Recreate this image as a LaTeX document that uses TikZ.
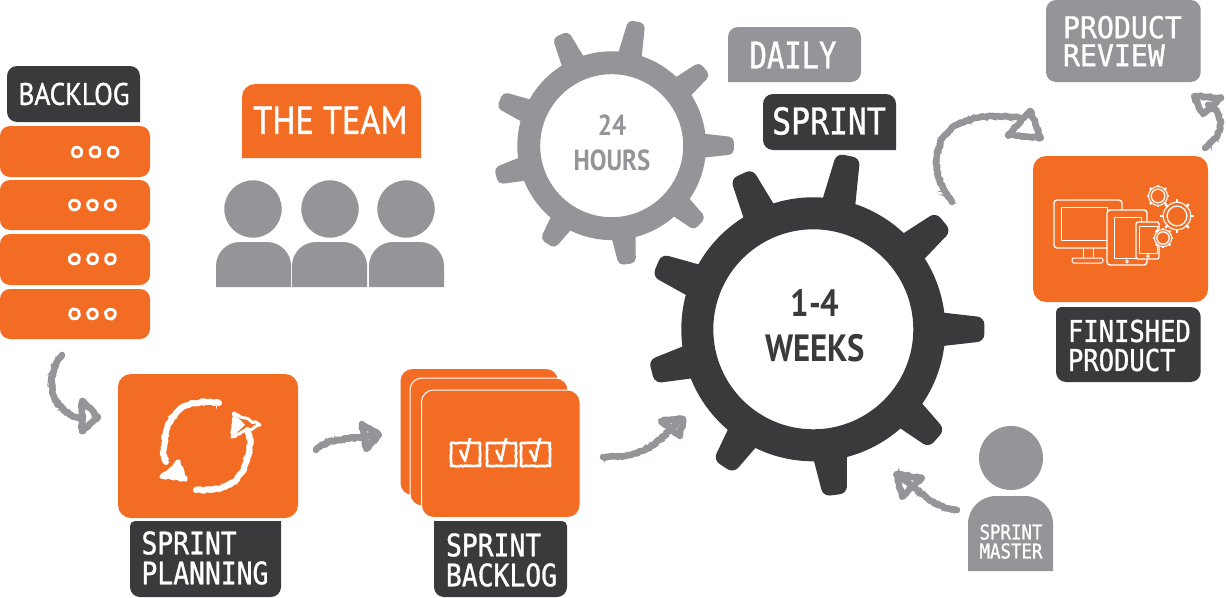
\documentclass[tikz,border=0pt]{standalone}
\usepackage{fontspec}
\usetikzlibrary{decorations.pathmorphing}
\newfontfamily\din[FakeStretch=.88,FakeBold=1.2]{PT Sans}
\newfontfamily\dinb[FakeStretch=.86]{PT Sans Bold}
\newfontfamily\monoA[FakeStretch=.85,FakeBold=1]{DejaVu Sans Mono}
\newfontfamily\monoB[FakeStretch=.78,FakeBold=1]{DejaVu Sans Mono}
\newfontfamily\monoC[FakeStretch=.94,FakeBold=1]{DejaVu Sans Mono}
\definecolor{orangeC}{HTML}{F36C24}
\definecolor{darkC}{HTML}{3A3A3C}
\definecolor{grayC}{HTML}{939598}
\tikzset{
  lab/.style={text=white,inner sep=0pt,outer sep=0pt},
  twol/.style={lab,align=left,anchor=west},
  chalkgray/.style={draw=grayC,line width=6.5pt,line cap=round,line join=round,
    decorate,decoration={random steps,segment length=2.5pt,amplitude=1pt}},
  chalkfine/.style={draw=grayC,line width=1pt,
    decorate,decoration={random steps,segment length=1.5pt,amplitude=4pt}},
  chalkwhite/.style={draw=white,line width=6pt,line cap=round,line join=round,
    decorate,decoration={random steps,segment length=2.5pt,amplitude=1pt}},
  chalkwfine/.style={draw=white,line width=.8pt,
    decorate,decoration={random steps,segment length=1.5pt,amplitude=3.6pt}},
  chalkline/.style={draw=white,line width=2.6pt,line join=round,
    decorate,decoration={random steps,segment length=1.6pt,amplitude=.4pt}},
  thinline/.style={draw=white,line width=1pt,line join=round},
  card/.style={fill=orangeC,rounded corners=13pt},
  ooo/.style={draw=white,line width=2.9pt,decorate,decoration={random steps,segment length=1.5pt,amplitude=.3pt}},
  person/.style={fill=grayC}
}
% x0 y0 x1 y1 colour rTL rTR rBR rBL
\newcommand\rbox[9]{%
  \fill[#5] ({(#1+#3)/2},#2) [rounded corners=#6] -- (#1,#2) [rounded corners=#9] -- (#1,#4)
     [rounded corners=#8] -- (#3,#4) [rounded corners=#7] -- (#3,#2) [sharp corners] -- cycle;}
% cx cy scale colour corner
\newcommand\gearshape[5]{%
  \begin{scope}[shift={(#1,#2)},scale=#3]
    \foreach \a/\r in {0/171,39.6/169,78.6/177,114.8/171,157.7/169,194.7/167,236.8/164,277.5/167,318.5/165}{
      \fill[#4,rotate=\a] (120,-17) -- (131,-16.5) [rounded corners=#5] -- (\r,-12) -- (\r,12) [sharp corners] -- (131,16.5) -- (120,17) -- cycle;
    }
    \fill[#4,even odd rule] (0,0) circle (132) (0,0) circle (100);
  \end{scope}}
\newcommand\tinygear[3]{%
  \draw[white,line width=1.3pt] (#1,#2) circle (#3*0.62);
  \foreach \a in {0,45,...,315}{\draw[white,line width=2.2pt] (#1,#2) ++(\a:#3*0.8) -- ++(\a:#3*0.24);}
  \draw[white,line width=1.1pt] (#1,#2) circle (#3*0.86);}
\begin{document}
\begin{tikzpicture}[x=1pt,y=-1pt]
\useasboundingbox (0,0) rectangle (1226,597);
\fill[white] (0,0) rectangle (1226,597);

% ---- backlog
\rbox{7}{66}{140}{122}{darkC}{10pt}{10pt}{0.01pt}{10pt}
\node[lab,font={\din\fontsize{31}{31}\selectfont}] (backlog) at (74,94) {BACKLOG};
\foreach \ya/\yb/\cx/\cy in {126/177/95/152,180/230/92.5/205,234/285/92.5/259,289/339/92.5/314}{
  \fill[orangeC,rounded corners=10pt] (0,\ya) rectangle (150,\yb);
  \foreach \dx in {-18,0,18}{\draw[ooo] (\cx+\dx,\cy) circle (4.6);}
}

% ---- team
\rbox{242}{84}{421}{158}{orangeC}{13pt}{13pt}{0.01pt}{0.01pt}
\node[lab,font={\din\fontsize{39}{39}\selectfont}] (team) at (330.5,120) {THE TEAM};
\foreach \c/\xa/\xb in {253/216/291,330/292/367,406/369/444}{
  \fill[person] (\c,209) circle (28.7);
  \fill[person,rounded corners=24pt] (\xa,287) [sharp corners] -- (\xa,265) [rounded corners=24pt] -- (\xa,242) -- (\xb,242) [sharp corners] -- (\xb,265) -- (\xb,287) -- cycle;
}

% ---- sprint planning
\fill[card] (118,374) rectangle (298,518);
\rbox{130}{521}{281}{597}{darkC}{5pt}{0.01pt}{10pt}{10pt}
\node[twol,font={\monoA\fontsize{31}{30}\selectfont}] (planning) at (141.5,558) {SPRINT\\PLANNING};
\foreach \st in {chalkwhite,chalkwfine}{
  \path[\st] (219,403) .. controls (195,398) and (170,408) .. (166,433) .. controls (163,445) and (162,452) .. (166,462);
  \path[\st] (196,490) .. controls (225,492) and (240,480) .. (245,465) .. controls (250,450) and (252,440) .. (247,430);
}
\path[chalkwhite,line width=3pt] (179,461) -- (186,480) -- (161,477) -- cycle;
\fill[white] (179,461) -- (186,480) -- (161,477) -- cycle;
\path[chalkwhite,line width=3pt] (234,413) -- (260,425) -- (232,437) -- cycle;
\fill[white] (234,413) -- (245,425) -- (232,437) -- cycle;

% ---- sprint backlog cards
\fill[orangeC,rounded corners=12pt] (400.5,369) rectangle (558,495);
\filldraw[orangeC,draw=white,line width=1pt,rounded corners=12pt] (410,378) rectangle (568,506);
\filldraw[orangeC,draw=white,line width=1pt,rounded corners=12pt] (421.5,390) rectangle (580,517.5);
\foreach \bx in {451,487,521}{
  \path[chalkline] (\bx,443) -- (\bx+29,443) -- (\bx+29,466) -- (\bx,466) -- cycle;
  \path[chalkline] (\bx+9,450) -- (\bx+14,461) -- (\bx+19,438);
}
\rbox{434}{521}{567}{597}{darkC}{0.01pt}{5pt}{10pt}{10pt}
\node[twol,font={\monoA\fontsize{31}{30}\selectfont}] (sbacklog) at (446,560) {SPRINT\\BACKLOG};

% ---- gears
\gearshape{611.7}{145.7}{.715}{grayC}{5pt}
\gearshape{813.3}{329.3}{1}{darkC}{7pt}
\node[text=grayC,inner sep=0pt,font={\dinb\fontsize{29}{29}\selectfont}] (h24) at (612,125) {24};
\node[text=grayC,inner sep=0pt,font={\dinb\fontsize{29}{29}\selectfont}] (hours) at (612,160) {HOURS};
\node[text=darkC,inner sep=0pt,font={\dinb\fontsize{38}{38}\selectfont}] (w14) at (815,303) {1-4};
\node[text=darkC,inner sep=0pt,font={\dinb\fontsize{38}{38}\selectfont}] (weeks) at (815,348) {WEEKS};

% ---- daily / sprint labels
\rbox{728}{27}{861}{82}{grayC}{10pt}{10pt}{10pt}{0.01pt}
\node[lab,font={\monoB\fontsize{37}{37}\selectfont}] (daily) at (793,55) {DAILY};
\rbox{763}{94}{896}{150}{darkC}{10pt}{10pt}{0.01pt}{10pt}
\node[lab,font={\monoA\fontsize{37}{37}\selectfont}] (sprint) at (829,121) {SPRINT};

% ---- product review
\rbox{1046}{0}{1200.7}{82}{grayC}{10pt}{10pt}{10pt}{10pt}
\node[twol,font={\monoC\fontsize{30}{28}\selectfont}] (review) at (1063,41) {PRODUCT\\REVIEW};

% ---- finished product
\fill[card] (1033,156) rectangle (1208,302);
\draw[thinline,line width=1.4pt,rounded corners=3pt] (1054,200) rectangle (1122,248);
\draw[thinline] (1061,207) rectangle (1107,240);
\draw[thinline] (1083,248) -- (1083,258) (1093,248) -- (1093,258);
\draw[thinline,rounded corners=2pt] (1072,258) rectangle (1103,263);
\filldraw[fill=orangeC,thinline,line width=1.4pt,rounded corners=3pt] (1107,210) rectangle (1147,265);
\draw[thinline] (1114,217) rectangle (1141,258);
\draw[thinline] (1127,261.5) circle (1.5);
\filldraw[fill=orangeC,thinline,line width=1.3pt,rounded corners=2pt] (1136,222) rectangle (1159,259);
\draw[thinline] (1139,226) rectangle (1157,253);
\draw[thinline] (1148,256) circle (1.5);
\tinygear{1158}{196}{11}
\tinygear{1177}{216}{16}
\fill[orangeC] (1163,238) circle (9);
\tinygear{1163}{238}{10}
\rbox{1056}{307}{1200.7}{382}{darkC}{5pt}{10pt}{10pt}{10pt}
\node[twol,font={\monoA\fontsize{30}{29}\selectfont}] (finished) at (1068,345.5) {FINISHED\\PRODUCT};

% ---- sprint master
\fill[person] (1011,458) circle (32);
\fill[person] (968,571) [sharp corners] -- (968,530) [rounded corners=28pt] -- (968,496) -- (1053,496) [sharp corners] -- (1053,530) -- (1053,571) -- cycle;
\node[lab,align=center,font={\monoA\fontsize{20.5}{19}\selectfont}] (master) at (1011,541.5) {SPRINT\\MASTER};

% ---- chalk connectors
\coordinate (a1s) at (62,355);   \coordinate (a1e) at (78,418);
\coordinate (a2s) at (316,450);  \coordinate (a2e) at (378,435);
\coordinate (a3s) at (603,457);  \coordinate (a3e) at (680,420);
\coordinate (a4s) at (957,510);  \coordinate (a4e) at (898,474);
\coordinate (a5s) at (952,202);  \coordinate (a5e) at (1020,118);
\coordinate (a6s) at (1205,148); \coordinate (a6e) at (1208,105);

\foreach \st in {chalkgray,chalkfine}{
  \path[\st] (a1s) .. controls (45,375) and (48,408) .. (a1e);
  \path[\st] (a2s) .. controls (328,438) and (345,440) .. (a2e);
  \path[\st] (a3s) .. controls (640,458) and (655,447) .. (a3e);
  \path[\st] (a4s) .. controls (938,508) and (925,498) .. (a4e);
  \path[\st] (a5s) .. controls (925,170) and (925,105) .. (a5e);
  \path[\st] (a6s) .. controls (1228,130) and (1222,110) .. (a6e);
}
\tikzset{chalkhead/.style={draw=grayC,line width=6.5pt,line join=round,
    decorate,decoration={random steps,segment length=2pt,amplitude=1pt}}}
\path[chalkhead] (82,401) -- (98,417) -- (82,431) -- cycle;
\path[chalkhead] (362,424) -- (379,435) -- (366,449) -- cycle;
\path[chalkhead] (661,421) -- (683,419) -- (680,436) -- cycle;
\path[chalkhead] (897,474) -- (922,478) -- (902,497) -- cycle;
\path[chalkhead] (1030,111) -- (1041,138) -- (1008,135) -- cycle;
\path[chalkhead] (1194,96) -- (1221,98) -- (1203,114) -- cycle;
\end{tikzpicture}
\end{document}
